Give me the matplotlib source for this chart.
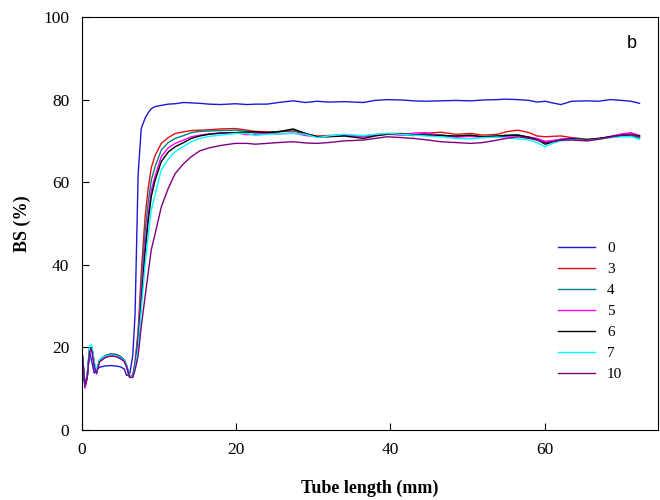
import matplotlib
matplotlib.use("Agg")
import matplotlib.pyplot as plt

# tube length positions (mm), shared by all curves
x = [0, 0.4, 0.7, 1.0, 1.3, 1.6, 1.9, 2.3, 3.0, 3.7, 4.4, 5.0, 5.5, 5.8, 6.2, 6.6, 6.9,
     7.3, 7.7, 8.2, 8.6, 9.0, 9.5, 10.3, 11.2, 12.1, 13.2, 14.2, 15.3, 16.5, 18, 19.9,
     21.4, 22.5, 24, 25.5, 27.4, 29, 30.5, 32, 34, 36.5, 38, 39.6, 41.5, 43, 44.5, 46.5,
     48.5, 50.4, 52, 53.9, 55, 56.5, 58, 59, 60.1, 61, 62.1, 63.5, 65.5, 67, 68.5, 70,
     71.2, 72.3]

bs_0 = [19.5, 10.2, 12.5, 19.0, 16.5, 13.8, 14.5, 15.2, 15.5, 15.6, 15.5, 15.3, 14.8, 13.2, 13.5, 18.0, 28.0,
        62.0, 73.0, 75.5, 76.8, 77.8, 78.3, 78.6, 78.9, 79.0, 79.3, 79.2, 79.1, 78.9, 78.8, 79.0,
        78.8, 78.9, 78.9, 79.3, 79.7, 79.3, 79.6, 79.4, 79.5, 79.3, 79.8, 80.0, 79.9, 79.7, 79.6, 79.7,
        79.8, 79.7, 79.9, 80.0, 80.1, 80.0, 79.8, 79.4, 79.6, 79.2, 78.8, 79.6, 79.7, 79.6, 80.0, 79.8,
        79.6, 79.1]
bs_3 = [19.5, 11.0, 13.0, 19.5, 19.8, 16.0, 14.2, 16.8, 17.8, 18.1, 18.0, 17.5, 16.8, 15.5, 12.8, 13.2, 16.5,
        24.0, 38.0, 51.6, 58.5, 63.5, 66.5, 69.4, 70.8, 71.8, 72.2, 72.5, 72.6, 72.7, 72.9, 73.0,
        72.6, 72.3, 72.2, 72.2, 72.4, 71.6, 71.2, 71.3, 71.4, 71.2, 71.5, 71.8, 71.8, 71.5, 71.8, 72.1,
        71.6, 71.8, 71.4, 71.6, 72.2, 72.6, 72.0, 71.2, 71.0, 71.1, 71.2, 70.8, 70.4, 70.6, 70.9, 71.2,
        71.3, 71.0]
bs_4 = [19.5, 10.8, 13.0, 19.6, 19.9, 16.0, 14.0, 16.8, 17.8, 18.2, 18.1, 17.6, 16.8, 15.5, 12.8, 13.2, 16.0,
        23.0, 35.0, 48.0, 55.0, 60.5, 63.8, 67.8, 69.6, 70.6, 71.3, 72.0, 72.3, 72.4, 72.5, 72.6,
        72.3, 71.9, 72.0, 72.3, 72.6, 71.8, 71.0, 71.2, 71.5, 71.0, 71.4, 71.7, 71.5, 71.3, 71.6, 71.5,
        71.0, 71.3, 70.9, 71.2, 71.4, 71.5, 70.8, 70.4, 69.6, 69.9, 70.4, 70.6, 70.2, 70.5, 71.0, 71.3,
        71.5, 70.6]
bs_5 = [19.4, 10.5, 12.8, 19.2, 19.5, 15.5, 13.8, 16.6, 17.6, 18.0, 17.8, 17.3, 16.6, 15.3, 12.7, 13.0, 15.8,
        22.0, 33.0, 45.0, 52.0, 58.0, 61.5, 66.2, 68.3, 69.4, 70.2, 71.0, 71.4, 71.7, 71.9, 72.0,
        71.5, 71.6, 71.8, 71.7, 71.9, 71.3, 71.0, 71.1, 71.3, 71.1, 71.4, 71.6, 71.4, 71.9, 72.0, 71.3,
        70.9, 71.1, 70.8, 71.0, 71.1, 71.3, 70.9, 70.6, 69.9, 70.1, 70.4, 70.7, 70.1, 70.5, 71.1, 71.7,
        72.0, 71.3]
bs_6 = [19.6, 11.0, 13.2, 19.8, 20.0, 16.2, 14.3, 17.0, 18.0, 18.4, 18.3, 17.8, 17.0, 15.6, 12.9, 13.0, 15.5,
        21.0, 31.0, 43.0, 50.5, 56.5, 60.5, 65.0, 67.3, 68.6, 69.6, 70.6, 71.2, 71.6, 71.9, 72.0,
        72.1, 72.2, 72.0, 72.2, 72.9, 71.8, 71.0, 71.0, 71.2, 70.6, 71.2, 71.6, 71.7, 71.5, 71.4, 71.3,
        71.2, 71.4, 71.0, 71.2, 71.3, 71.4, 70.9, 70.3, 69.2, 69.7, 70.2, 70.5, 70.3, 70.6, 71.0, 71.4,
        71.6, 71.2]
bs_7 = [19.7, 11.2, 13.5, 20.4, 20.6, 16.5, 14.5, 17.0, 17.9, 18.2, 18.1, 17.6, 16.9, 15.6, 13.0, 12.9, 15.2,
        20.0, 29.0, 40.0, 47.0, 53.3, 57.0, 63.0, 65.6, 67.4, 68.7, 69.8, 70.6, 71.1, 71.4, 71.8,
        71.8, 71.3, 71.6, 71.7, 71.8, 71.6, 70.8, 71.2, 71.6, 71.3, 71.6, 71.8, 71.6, 71.4, 71.2, 71.0,
        70.6, 70.5, 70.8, 70.9, 70.7, 70.5, 70.2, 69.6, 68.6, 69.4, 70.0, 70.3, 70.1, 70.4, 70.8, 71.0,
        71.0, 70.4]
bs_10 = [19.5, 10.8, 13.0, 19.0, 19.3, 15.5, 13.6, 16.5, 17.5, 17.9, 17.8, 17.3, 16.6, 15.3, 12.8, 12.7, 14.5,
         18.0, 25.0, 32.3, 38.0, 43.6, 47.5, 54.0, 58.5, 62.1, 64.5, 66.2, 67.6, 68.3, 68.9, 69.4,
         69.4, 69.2, 69.4, 69.6, 69.8, 69.5, 69.4, 69.6, 70.0, 70.2, 70.6, 71.0, 70.8, 70.6, 70.3, 69.8,
         69.6, 69.4, 69.6, 70.2, 70.6, 71.0, 70.6, 70.2, 69.6, 69.8, 70.2, 70.2, 70.0, 70.4, 70.9, 71.4,
         71.6, 71.0]

names = ["0", "3", "4", "5", "6", "7", "10"]
colors = ["#1a1ad6", "#e01010", "#008080", "#ff00ff", "#000000", "#00ffff", "#800080"]
series = [bs_0, bs_3, bs_4, bs_5, bs_6, bs_7, bs_10]

plt.rcParams['font.family'] = ['Liberation Serif', 'DejaVu Serif']

fig = plt.figure(figsize=(6.6, 5), dpi=100)
ax = fig.add_axes([0.124, 0.14, 0.873, 0.826])

for ys, c, n in zip(series, colors, names):
    ax.plot(x, ys, color=c, lw=1.0, label=n)

ax.set_xlim(0, 74.7)
ax.set_ylim(0, 100)
ax.set_xticks([0, 20, 40, 60])
ax.set_yticks([0, 20, 40, 60, 80, 100])
ax.tick_params(direction='in', length=5, labelsize=12.5, pad=9)
ax.set_xlabel('Tube length (mm)', fontsize=13, fontweight='bold', labelpad=15)
ax.set_ylabel('BS (%)', fontsize=13, fontweight='bold', labelpad=9)

ax.text(0.955, 0.935, 'b', transform=ax.transAxes, fontsize=13,
        family='Liberation Sans', ha='center', va='center')

# legend without frame, lower right
ax.legend(loc='lower right', bbox_to_anchor=(0.962, 0.085), frameon=False, fontsize=11,
          handlelength=2.4, labelspacing=0.48, handletextpad=0.8)

fig.savefig('out.png', dpi=100)
